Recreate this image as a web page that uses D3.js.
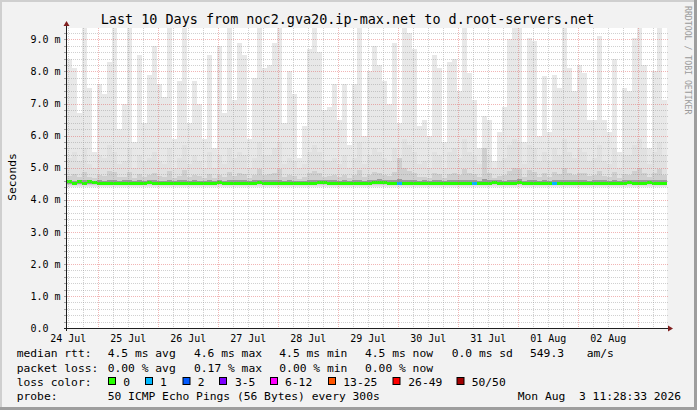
<!DOCTYPE html>
<html><head><meta charset="utf-8">
<script src="https://cdn.jsdelivr.net/npm/d3@7"></script>
<style>
body{margin:0;background:#f2f2f2}
svg{display:block}
text{font-family:"DejaVu Sans Mono",monospace;white-space:pre}
</style>
</head><body>
<svg id="chart" width="697" height="410"></svg>
<script>
// ---------- data (one column = 2 hours, 120 columns over 10 days) ----------
const titleText = "Last 10 Days from noc2.gva20.ip-max.net to d.root-servers.net";
const startTime = "2026-07-24T11:28:33Z";
const endTime   = "2026-08-03T11:28:33Z";
const yTicks = [0,1,2,3,4,5,6,7,8,9];

// top of outer smoke (max ping, ms)
const smokeMax = [8.4,8.1,6.7,9.8,7.5,5.5,7.6,7.3,8.3,9.8,6.2,7.0,9.8,5.8,8.5,6.4,7.9,8.8,7.6,7.2,9.8,5.9,7.7,9.8,6.4,7.7,7.0,5.9,8.5,5.6,8.8,6.7,9.8,7.1,8.9,8.5,5.9,7.8,9.8,8.1,
 8.2,8.9,9.8,6.4,8.0,7.3,5.3,6.3,8.7,9.8,8.6,6.8,6.9,7.6,6.5,7.6,5.7,7.6,9.8,6.0,8.0,8.8,8.2,7.7,7.0,8.9,6.4,9.8,9.2,8.7,6.3,6.5,6.0,8.5,8.1,5.8,8.3,8.4,7.4,9.8,
 7.95,7.1,5.6,6.6,6.5,5.2,6.1,6.9,9.0,9.8,9.8,5.8,9.05,8.95,6.0,7.85,6.1,7.9,7.5,9.8,8.1,7.4,8.2,7.95,6.5,6.5,9.1,6.5,6.1,8.4,5.5,7.5,7.4,9.05,9.8,8.2,5.6,8.0,9.8,7.1];
// second smoke layer top (ms)
const smokeMid = [5.3,5.5,5.2,5.6,5.1,5.0,5.4,5.3,5.7,5.5,5.1,5.2,5.6,5.0,5.4,5.2,5.3,5.5,5.2,5.1,5.6,5.0,5.3,5.7,5.1,5.4,5.2,5.0,5.5,5.0,5.4,5.1,5.6,5.3,5.5,5.4,5.0,5.3,5.8,5.4,
 5.4,5.6,5.8,5.1,5.3,5.2,5.0,5.1,5.5,5.7,5.5,5.2,5.2,5.3,5.1,5.4,5.0,5.3,5.8,5.1,5.4,5.6,5.5,5.3,5.2,5.6,5.1,5.9,5.7,5.5,5.1,5.2,5.0,5.5,5.4,5.0,5.5,5.6,5.3,5.9,
 5.5,5.4,5.1,5.6,5.4,5.0,5.2,5.3,5.7,5.9,5.8,5.1,5.7,5.6,5.2,5.5,5.2,5.6,5.4,5.9,5.5,5.3,5.6,5.5,5.2,5.3,5.7,5.2,5.1,5.6,5.0,5.4,5.4,5.7,5.9,5.6,5.1,5.5,5.8,5.4];
// inner smoke layer top (ms)
const smokeInner = [4.75,4.8,4.72,4.85,4.7,4.68,4.78,4.74,4.9,4.85,4.7,4.72,4.88,4.68,4.8,4.72,4.76,4.82,4.74,4.7,4.9,4.68,4.75,4.92,4.7,4.78,4.73,4.68,4.8,4.67,4.78,4.7,4.88,4.74,4.82,4.8,4.68,4.76,4.95,4.78,
 4.8,4.84,4.95,4.7,4.76,4.74,4.66,4.7,4.82,4.9,4.84,4.72,4.73,4.76,4.7,4.78,4.68,4.76,4.92,4.7,4.78,4.86,4.82,4.76,4.74,4.86,5.3,4.98,4.9,4.84,4.7,4.72,4.68,4.82,4.8,4.68,4.8,4.84,4.76,4.96,
 4.84,4.8,4.72,5.6,4.84,4.68,4.74,4.78,4.9,5.0,4.96,4.7,4.92,4.88,4.72,4.82,4.72,4.86,4.8,5.0,4.82,4.76,4.84,4.82,4.74,4.76,4.9,4.74,4.7,4.86,4.68,4.8,4.78,4.9,5.0,4.84,4.7,4.82,4.96,4.78];
// core (darkest) smoke top (ms)
const smokeCore = [4.62,4.6,4.62,4.61,4.63,4.6,4.61,4.6,4.62,4.61,4.6,4.61,4.62,4.6,4.61,4.6,4.62,4.61,4.6,4.6,4.62,4.6,4.61,4.63,4.6,4.61,4.6,4.6,4.62,4.6,4.62,4.6,4.62,4.61,4.62,4.61,4.6,4.61,4.63,4.61,
 4.61,4.62,4.63,4.6,4.61,4.6,4.6,4.6,4.62,4.63,4.63,4.62,4.63,4.61,4.6,4.61,4.6,4.61,4.63,4.6,4.61,4.63,4.64,4.63,4.61,4.62,4.66,4.63,4.62,4.61,4.6,4.61,4.6,4.62,4.61,4.6,4.61,4.62,4.61,4.63,
 4.62,4.61,4.6,4.66,4.61,4.63,4.61,4.6,4.62,4.63,4.64,4.6,4.63,4.62,4.6,4.62,4.6,4.62,4.61,4.63,4.62,4.61,4.62,4.62,4.6,4.61,4.63,4.61,4.6,4.62,4.6,4.62,4.63,4.62,4.63,4.62,4.63,4.61,4.63,4.61];
// lower bounds of the four smoke layers (ms)
const smokeFloor = [4.40,4.43,4.46,4.49];
// median rtt (ms)
const medianRtt = [4.57,4.53,4.57,4.53,4.57,4.56,4.53,4.53,4.53,4.53,4.53,4.53,4.53,4.53,4.53,4.53,4.55,4.53,4.53,4.53,4.53,4.53,4.53,4.53,4.53,4.53,4.53,4.53,4.53,4.53,4.55,4.53,4.53,4.53,4.53,4.53,4.53,4.53,4.55,4.53,
 4.53,4.53,4.53,4.53,4.53,4.53,4.53,4.53,4.53,4.53,4.56,4.56,4.53,4.53,4.53,4.53,4.53,4.53,4.53,4.53,4.53,4.55,4.56,4.56,4.53,4.53,4.53,4.53,4.53,4.53,4.53,4.53,4.53,4.53,4.53,4.53,4.53,4.53,4.53,4.53,
 4.53,4.53,4.53,4.53,4.53,4.56,4.53,4.53,4.53,4.53,4.56,4.53,4.53,4.53,4.53,4.53,4.53,4.53,4.53,4.53,4.53,4.53,4.53,4.53,4.53,4.53,4.53,4.53,4.53,4.53,4.53,4.53,4.56,4.53,4.53,4.53,4.56,4.53,4.53,4.53];
// lost pings per column
const lossCount = [0,0,0,0,0,0,0,0,0,0,0,0,0,0,0,0,0,0,0,0,0,0,0,0,0,0,0,0,0,0,0,0,0,0,0,0,0,0,0,0,
 0,0,0,0,0,0,0,0,0,0,0,0,0,0,0,0,0,0,0,0,0,0,0,0,0,0,1,0,0,0,0,0,0,0,0,0,0,0,0,0,
 0,1,0,0,0,0,0,0,0,0,0,0,0,0,0,0,0,1,0,0,0,0,0,0,0,0,0,0,0,0,0,0,0,0,0,0,0,0,0,0];

const lossLabels = ["0","1","2","3-5","6-12","13-25","26-49","50/50"];
const lossColors = ["#26ff00","#00b8ff","#0059ff","#7e00ff","#ff00ff","#ff5500","#ff0000","#a10000"];
const lossUpper  = [0,1,2,5,12,25,49,50];

const rttStats  = ["4.5 ms avg","4.6 ms max","4.5 ms min","4.5 ms now","0.0 ms sd","549.3","am/s"];
const lossStats = ["0.00 % avg","0.17 % max","0.00 % min","0.00 % now"];
const probeText = "50 ICMP Echo Pings (56 Bytes) every 300s";
const stampText = "Mon Aug  3 11:28:33 2026";

// ---------- drawing ----------
const W = 697, H = 410;
const svg = d3.select("#chart");
const L = 67, R = 667, T = 28, B = 328;

svg.append("rect").attr("width", W).attr("height", H).attr("fill", "#f2f2f2");
svg.append("rect").attr("x",0).attr("y",0).attr("width",W).attr("height",2).attr("fill","#cfcfcf");
svg.append("rect").attr("x",0).attr("y",0).attr("width",2).attr("height",H).attr("fill","#cfcfcf");
svg.append("rect").attr("x",0).attr("y",H-3).attr("width",W).attr("height",3).attr("fill","#9e9e9e");
svg.append("rect").attr("x",W-3).attr("y",0).attr("width",3).attr("height",H).attr("fill","#9e9e9e");

const t0 = new Date(startTime), t1 = new Date(endTime);
const x = d3.scaleUtc().domain([t0, t1]).range([L, R]);
const y = d3.scaleLinear().domain([0, 9.356]).range([B, T]);
const step = 2 * 3600 * 1000;
const colT = i => new Date(t0.getTime() + i * step);

svg.append("defs").append("clipPath").attr("id","plot")
  .append("rect").attr("x",L).attr("y",T).attr("width",R-L).attr("height",B-T);

svg.append("rect").attr("x",L).attr("y",T).attr("width",R-L).attr("height",B-T).attr("fill","#fff");

const g = svg.append("g").attr("clip-path","url(#plot)");
const idx = d3.range(smokeMax.length);

const layers = [
  {top: smokeMax,   low: smokeFloor[0], color: "#e8e8e8"},
  {top: smokeMid,   low: smokeFloor[1], color: "#e1e1e1"},
  {top: smokeInner, low: smokeFloor[2], color: "#cfcfcf"},
  {top: smokeCore,  low: smokeFloor[3], color: "#9a9a9a"}
];
layers.forEach(ly => {
  g.append("g").selectAll("rect").data(idx).join("rect")
    .attr("x", i => x(colT(i)))
    .attr("width", i => x(colT(i+1)) - x(colT(i)))
    .attr("y", i => y(ly.top[i]))
    .attr("height", i => y(ly.low) - y(ly.top[i]))
    .attr("fill", ly.color)
    .attr("shape-rendering","crispEdges");
});

// median line coloured by loss
const lossColor = n => lossColors[lossUpper.findIndex(u => n <= u)];
g.append("g").selectAll("rect").data(idx).join("rect")
  .attr("x", i => x(colT(i)))
  .attr("width", i => x(colT(i+1)) - x(colT(i)))
  .attr("y", i => Math.round(y(medianRtt[i])) - 1.5)
  .attr("height", 3)
  .attr("fill", i => lossColor(lossCount[i]))
  .attr("shape-rendering","crispEdges");

// grid
const grid = svg.append("g").attr("shape-rendering","crispEdges");
const minorC = "rgba(143,143,143,0.42)", majorC = "rgba(222,79,79,0.42)";
const minorY = d3.range(1, 47).map(k => k / 5).filter(v => Math.abs(v - Math.round(v)) > 1e-6);
const py = v => Math.round(y(v)) + 0.5;
grid.selectAll(".hm").data(minorY).join("line")
  .attr("x1", L).attr("x2", R+2).attr("y1", py).attr("y2", py)
  .attr("stroke",minorC).attr("stroke-dasharray","1,1");
grid.selectAll(".hM").data(yTicks.filter(v => v > 0)).join("line")
  .attr("x1", L).attr("x2", R+2).attr("y1", py).attr("y2", py)
  .attr("stroke",majorC).attr("stroke-dasharray","1,1");
const days = d3.utcDay.range(t0, t1);
const sixH = d3.utcHour.every(6).range(t0, t1).filter(d => d.getUTCHours() !== 0);
const px = d => Math.round(x(d)) + 0.5;
grid.selectAll(".vm").data(sixH).join("line")
  .attr("x1", px).attr("x2", px).attr("y1", T).attr("y2", B)
  .attr("stroke",minorC).attr("stroke-dasharray","1,1");
grid.selectAll(".vM").data(days).join("line")
  .attr("x1", px).attr("x2", px).attr("y1", T).attr("y2", B)
  .attr("stroke",majorC).attr("stroke-dasharray","1,1");

// ticks on the y axis
grid.selectAll(".ty").data(minorY.concat(yTicks)).join("line")
  .attr("x1", L-3).attr("x2", L).attr("y1", py).attr("y2", py)
  .attr("stroke","rgba(143,143,143,0.8)");

// axes
svg.append("line").attr("x1", L-0.5).attr("x2", L-0.5).attr("y1", B+3).attr("y2", T-4)
  .attr("stroke","#1f1f1f");
svg.append("line").attr("x1", L-3).attr("x2", R+2).attr("y1", B+0.5).attr("y2", B+0.5)
  .attr("stroke","#1f1f1f");
svg.append("path").attr("d", `M${L-3.5},${T-2}L${L-0.5},${T-7}L${L+2.5},${T-2}Z`).attr("fill","#801f1f");
svg.append("path").attr("d", `M${R+1},${B-2.5}L${R+6},${B+0.5}L${R+1},${B+3.5}Z`).attr("fill","#801f1f");

// axis labels
const fmt = d3.format(".1f");
svg.append("g").selectAll("text").data(yTicks).join("text")
  .attr("x", 30.5).attr("y", v => y(v) + 3.7)
  .attr("font-size", "10px").attr("fill","#000")
  .text(v => v === 0 ? fmt(v) : fmt(v) + " m");

const labelDays = d3.utcDay.range(d3.utcDay.floor(t0), t1)
  .map(d => d3.utcHour.offset(d, 12)).filter(d => d < t1);
const dayFmt = d3.utcFormat("%d %b");
svg.append("g").selectAll("text").data(labelDays).join("text")
  .attr("x", d => x(d)).attr("y", 341.5).attr("text-anchor","middle")
  .attr("font-size","10px").attr("fill","#000")
  .text(dayFmt);

// title
svg.append("text").attr("x", 347.5).attr("y", 24).attr("text-anchor","middle")
  .attr("font-size","13.45px").attr("fill","#000").text(titleText);

// y axis title
svg.append("text").attr("transform","translate(15.5,177) rotate(-90)").attr("text-anchor","middle")
  .attr("font-size","11.3px").attr("fill","#000").text("Seconds");

// watermark
svg.append("text").attr("transform","translate(685,6) rotate(90)")
  .attr("font-size","8.2px").attr("fill","#9a9a9a").text("RRDTOOL / TOBI OETIKER");

// legend
const leg = svg.append("g").attr("font-size","11.3px").attr("fill","#000");
const lx0 = 16.7;
const rttX = [107.7,194,279.3,365,451.7,530,586.7];
leg.append("text").attr("x", lx0).attr("y", 357).text("median rtt:");
leg.selectAll(".r").data(rttStats).join("text").attr("x",(d,i)=>rttX[i]).attr("y",357).text(d=>d);
leg.append("text").attr("x", lx0).attr("y", 371.5).text("packet loss:");
leg.selectAll(".l").data(lossStats).join("text").attr("x",(d,i)=>rttX[i]).attr("y",371.5).text(d=>d);
leg.append("text").attr("x", lx0).attr("y", 386).text("loss color:");
const boxX = [108.5,145.5,183,219.5,270.5,328.5,393,457];
const labX = [123.3,160,197.7,235,285,343.3,408.3,471.7];
leg.selectAll(".sw").data(lossLabels).join("rect")
  .attr("x",(d,i)=>boxX[i]).attr("y",377.5).attr("width",7).attr("height",7)
  .attr("fill",(d,i)=>lossColors[i]).attr("stroke","#000").attr("stroke-width",1);
leg.selectAll(".sl").data(lossLabels).join("text")
  .attr("x",(d,i)=>labX[i]).attr("y",386).text(d=>d);
leg.append("text").attr("x", lx0).attr("y", 400).text("probe:");
leg.append("text").attr("x", 107.7).attr("y", 400).text(probeText);
leg.append("text").attr("x", 681).attr("y", 400).attr("text-anchor","end").text(stampText);
</script>
</body></html>
